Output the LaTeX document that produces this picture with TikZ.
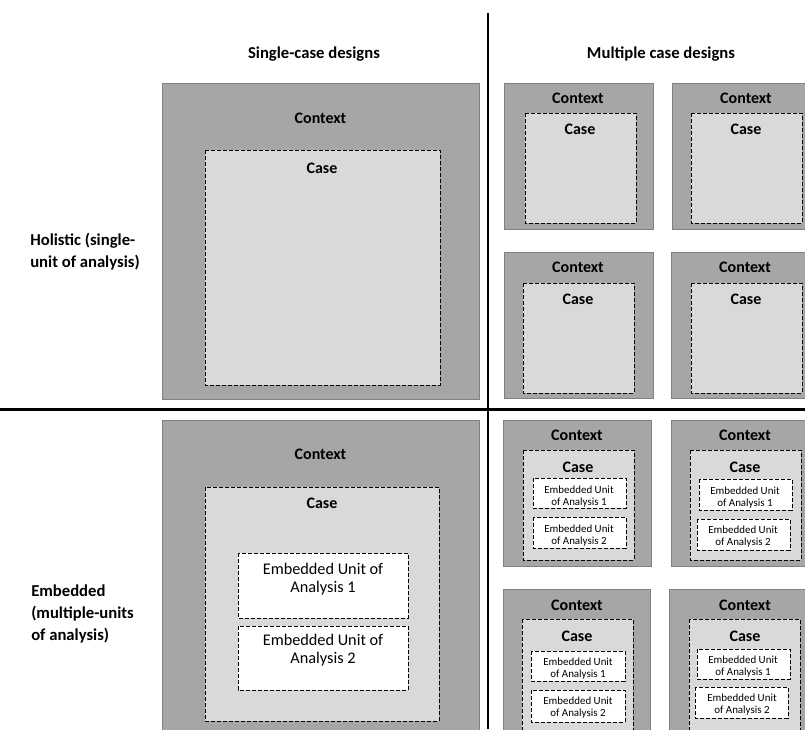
\documentclass[tikz,border=0pt]{standalone}
\usepackage{fontspec}
\setmainfont{Carlito}
\definecolor{ctxgray}{HTML}{A6A6A6}
\definecolor{ctxedge}{HTML}{808080}
\definecolor{casegray}{HTML}{D9D9D9}
\begin{document}
\begin{tikzpicture}[x=0.75pt,y=-0.75pt,
  ctx/.style={fill=ctxgray,draw=ctxedge,line width=0.75pt},
  cse/.style={fill=casegray,draw=black,line width=0.75pt,dash pattern=on 3pt off 1.5pt},
  emb/.style={fill=white,draw=black,line width=0.75pt,dash pattern=on 3pt off 1.5pt},
  hdr/.style={font=\bfseries\fontsize{12.5}{16.5}\selectfont,inner sep=0pt,align=left},
  lbl/.style={font=\bfseries\fontsize{12}{14}\selectfont,inner sep=0pt},
  bigemb/.style={font=\fontsize{12.2}{13.8}\selectfont,inner sep=0pt,align=center},
  smemb/.style={font=\fontsize{8.2}{9}\selectfont,inner sep=0pt,align=center},
  divider/.style={draw=black,line width=2pt}]
\useasboundingbox (0,0) rectangle (805,729);
\clip (0,0) rectangle (805,729);

% headers and row labels
\node[hdr] (hsingle) at (314,54) {Single-case designs};
\node[hdr] (hmulti) at (661,54) {Multiple case designs};
\node[hdr,anchor=west] (rhol) at (30,252) {Holistic (single-\\unit of analysis)};
\node[hdr,anchor=west] (remb) at (31,614) {Embedded\\(multiple-units\\of analysis)};

% dividers
\coordinate (vtop) at (488,13);
\coordinate (vbot) at (488,729);
\coordinate (hl) at (0,409.5);
\coordinate (hr) at (805,409.5);
\draw[divider] (vtop) -- (vbot);
\draw[divider,line width=2.3pt] (hl) -- (hr);

% ---- single-case holistic
\draw[ctx] (162.5,83) rectangle (479,399.5);
\draw[cse] (205,150) rectangle (440,385);
\node[lbl] (sh-ctx) at (320.5,118) {Context};
\node[lbl] (sh-case) at (322,168) {Case};

% ---- single-case embedded
\draw[ctx] (162.5,420) rectangle (479,745);
\draw[cse] (205,487) rectangle (439,721);
\draw[emb] (238,553) rectangle (408,618);
\draw[emb] (238,626) rectangle (408,690);
\node[lbl] (se-ctx) at (320.5,454) {Context};
\node[lbl] (se-case) at (322,503) {Case};
\node[bigemb] (se-e1) at (323,579) {Embedded Unit of\\Analysis 1};
\node[bigemb] (se-e2) at (323,650) {Embedded Unit of\\Analysis 2};

% ---- multiple holistic
\draw[ctx] (504,83) rectangle (653,229);
\draw[cse] (525,113) rectangle (636,223);
\node[lbl] (mh1-ctx) at (578,98) {Context};
\node[lbl] (mh1-case) at (580,129) {Case};

\draw[ctx] (672,83) rectangle (821,229);
\draw[cse] (691,113) rectangle (802,223);
\node[lbl] (mh2-ctx) at (746,98) {Context};
\node[lbl] (mh2-case) at (746,129) {Case};

\draw[ctx] (504,252) rectangle (653,398);
\draw[cse] (523,283) rectangle (634,393);
\node[lbl] (mh3-ctx) at (578,267) {Context};
\node[lbl] (mh3-case) at (578,299) {Case};

\draw[ctx] (671,252) rectangle (820,398);
\draw[cse] (691,283) rectangle (802,393);
\node[lbl] (mh4-ctx) at (745,267) {Context};
\node[lbl] (mh4-case) at (746,299) {Case};

% ---- multiple embedded
\draw[ctx] (503,420) rectangle (651,566);
\draw[cse] (523,450) rectangle (634,560);
\draw[emb] (533,478) rectangle (626,508);
\draw[emb] (533,517) rectangle (626,548);
\node[lbl] (me1-ctx) at (577,435) {Context};
\node[lbl] (me1-case) at (578,467) {Case};
\node[smemb] (me1-e1) at (579,497) {Embedded Unit\\of Analysis 1};
\node[smemb] (me1-e2) at (579,536) {Embedded Unit\\of Analysis 2};

\draw[ctx] (671,420) rectangle (820,566);
\draw[cse] (690,450) rectangle (801,560);
\draw[emb] (699,479) rectangle (792,510);
\draw[emb] (697,519) rectangle (790,550);
\node[lbl] (me2-ctx) at (745,435) {Context};
\node[lbl] (me2-case) at (745,467) {Case};
\node[smemb] (me2-e1) at (745,498) {Embedded Unit\\of Analysis 1};
\node[smemb] (me2-e2) at (743,537) {Embedded Unit\\of Analysis 2};

\draw[ctx] (503,589) rectangle (650,745);
\draw[cse] (522,619) rectangle (633,740);
\draw[emb] (531,651) rectangle (625,681);
\draw[emb] (531,690) rectangle (625,722);
\node[lbl] (me3-ctx) at (577,605) {Context};
\node[lbl] (me3-case) at (577,636) {Case};
\node[smemb] (me3-e1) at (578,669) {Embedded Unit\\of Analysis 1};
\node[smemb] (me3-e2) at (578,708) {Embedded Unit\\of Analysis 2};

\draw[ctx] (669,589) rectangle (818,745);
\draw[cse] (689,619) rectangle (800,740);
\draw[emb] (697,649) rectangle (790,679);
\draw[emb] (695,687) rectangle (788,718);
\node[lbl] (me4-ctx) at (745,605) {Context};
\node[lbl] (me4-case) at (745,636) {Case};
\node[smemb] (me4-e1) at (743,667) {Embedded Unit\\of Analysis 1};
\node[smemb] (me4-e2) at (742,705) {Embedded Unit\\of Analysis 2};
\end{tikzpicture}
\end{document}
